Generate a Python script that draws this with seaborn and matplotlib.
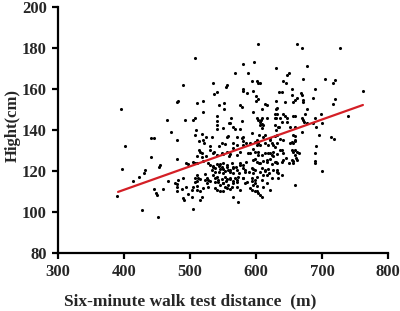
import matplotlib
matplotlib.use("Agg")
import matplotlib.pyplot as plt
import seaborn as sns
import pandas as pd

# Six-minute walk test distance (m) and height (cm)
walk_m = [
    395, 401, 397, 389,
    489, 482, 465, 492,
    603, 508, 580, 597, 568, 588, 630, 535, 556, 555, 594, 601, 603, 606, 580, 580,
    541, 536, 596, 586, 600, 603, 600, 635, 511, 520, 544, 551, 551, 576, 579, 614,
    617, 630, 596, 609, 520, 630, 632, 541, 562, 601, 617, 508, 505, 630,
    662, 670, 727, 677, 650, 647, 671, 705, 641, 645, 720, 717, 655, 689, 762, 639,
    655, 668, 670, 662, 659, 656, 671, 671, 644, 686, 720, 717, 677, 674, 641, 647,
    659, 689, 698, 739, 671,
    471, 441, 445, 480, 441, 480, 432, 430, 453, 455, 494, 497, 423, 414, 467, 477,
    482, 489, 480, 445, 448, 450, 459, 480, 480, 488, 494, 497, 489, 491, 427, 452,
    639, 647, 659, 677, 686, 700, 691, 656, 659, 670, 695, 714, 718, 641, 659, 656,
    652, 691, 639, 655, 659, 665, 659, 689, 645, 650, 656, 661, 662, 689, 689, 639,
    700, 639, 659,
    541, 541, 541, 550, 561, 565, 579, 606, 609, 635, 509, 558, 556, 571, 580, 594,
    605, 629, 518, 514, 521, 524, 530, 544, 553, 565, 571, 585, 591, 601, 603, 606,
    614, 621, 626, 632, 515, 518, 511, 535, 541, 548, 556, 561, 571, 576, 588, 595,
    603, 609, 614, 621, 626, 632, 505, 508, 520, 527, 535, 541, 544, 550, 556, 564,
    565, 576, 580, 585, 598, 605, 611, 617, 624, 630, 533, 538, 545, 550, 553, 561,
    565, 571, 574, 583, 589, 595, 606, 614, 620, 626, 632, 508, 511, 515, 523, 526,
    530, 538, 542, 548, 550, 555, 561, 565, 571, 580, 586, 594, 598, 609, 617, 624,
    505, 511, 520, 527, 538, 545, 553, 561, 571, 576, 591, 601, 611, 621, 503, 515,
    565, 573, 606, 609, 505,
    480, 559, 568, 576,
    632, 629, 629, 636, 603, 609, 608, 644, 656, 670, 673,
    508, 520, 533, 579, 580, 548, 514, 530, 536, 524, 550, 559, 565, 580, 511, 518,
    530, 535, 538, 545, 548, 550, 544, 556, 558, 561, 565, 570, 576, 580, 583, 511,
    512, 508, 511, 523, 526, 527, 535, 541, 542, 538, 545, 550, 553, 556, 561, 565,
    568, 571, 573, 558, 564, 580, 583, 503, 515, 518, 541, 550, 556,
    606, 611, 609, 629, 633, 630, 652, 611, 614, 621, 632, 636, 655, 659, 598, 601,
    618, 624, 629, 591, 598, 603, 618, 624, 626, 636, 641, 656, 662, 595, 601, 606,
    617, 621, 629, 632, 641, 655, 656, 594, 598, 595, 609, 614, 618, 632, 633, 594,
    598, 601, 611, 617, 633, 595, 601, 594, 598, 603,
]
height_cm = [
    150, 132, 121, 108,
    162, 154, 145, 145,
    182, 175, 172, 173, 168, 168, 170, 163, 162, 161, 164, 164, 163, 163, 160, 159,
    158.5, 157.5, 159, 158, 156.5, 155, 154, 158.5, 153, 154, 152, 153, 150, 152, 151, 152.5,
    152, 154, 149, 150, 149, 150, 148, 147, 146, 146, 146, 146, 145, 146,
    182, 180, 180, 171, 168, 167, 165, 165, 164, 163, 164.5, 163, 160, 160, 159, 158.5,
    157, 158, 157, 155.5, 154.5, 153.5, 154.5, 153.5, 153.5, 155.5, 155, 152.5, 150, 148, 148, 146,
    147, 146, 148, 147, 145,
    139, 136, 136, 135, 127, 126, 120.5, 119, 122, 123, 124, 123.5, 117, 115, 115, 114,
    115.5, 116.5, 113.5, 111, 109.5, 108.5, 111, 112, 110, 111, 112, 109, 107, 106, 101, 97.5,
    144, 144, 141.5, 143.5, 143.5, 143.5, 141.5, 137.5, 137, 139, 137.5, 136.5, 135.5, 135, 134.5, 133.5,
    133.5, 132, 130, 130, 130, 129, 128, 129, 126.5, 124, 125, 126.5, 125.5, 125, 124, 124.5,
    120, 118, 113,
    144.5, 142.5, 140.5, 141, 143.5, 141.5, 144.5, 142.5, 143, 141.5, 140, 137, 136.5, 136.5, 136.5, 138.5,
    137.5, 137, 138, 134.5, 133.5, 136.5, 132, 132, 133, 133.5, 132.5, 133.5, 133.5, 135, 133.5, 132.5,
    133.5, 135, 132.5, 133.5, 129.5, 129, 127.5, 129, 128, 129, 129.5, 128.5, 128, 129.5, 129, 130.5,
    129.5, 128, 129, 129, 127.5, 128.5, 124.5, 124, 125, 124, 122.5, 123.5, 122.5, 124, 123, 124,
    122, 124, 123, 124.5, 126, 124, 125, 124.5, 123.5, 124.5, 120.5, 119.5, 121, 119, 120, 120.5,
    119, 120.5, 119, 120.5, 119.5, 121, 119.5, 120.5, 119, 120.5, 119.5, 116.5, 115, 116, 115.5, 114,
    115, 116.5, 114.5, 116, 114, 115, 116, 114, 115.5, 116.5, 114.5, 115, 114, 115.5, 114, 116.5,
    112, 110.5, 111.5, 112, 111.5, 110, 112, 111, 112, 110.5, 111.5, 110, 112, 110.5, 107.5, 106,
    107.5, 105, 108.5, 107.5, 101.5,
    153.5, 143.5, 140.5, 140.5,
    150.5, 148, 146, 146, 145, 146, 145, 147, 147, 146, 144,
    137.5, 135, 136.5, 136, 134.5, 133.5, 130, 130, 129.5, 127.5, 128.5, 127.5, 131, 132.5, 124, 127,
    123, 122, 121.5, 123.5, 122, 121, 119.5, 122, 120.5, 119.5, 121.5, 122, 123, 121.5, 119.5, 118,
    116.5, 114.5, 112.5, 118.5, 116.5, 115.5, 118, 117, 115.5, 114.5, 113, 114, 117, 116, 116.5, 115,
    116.5, 114.5, 117, 113, 112, 116.5, 114, 110.5, 110, 107.5, 110.5, 110, 111.5,
    144, 142.5, 141, 142.5, 141.5, 140, 141.5, 136.5, 137.5, 136, 137.5, 135.5, 134, 135, 134, 132.5,
    132.5, 133.5, 131.5, 129, 129.5, 128, 129, 128, 129.5, 130, 129, 129.5, 129.5, 125.5, 124.5, 124,
    125.5, 126, 124.5, 124, 125.5, 125.5, 124, 121.5, 120.5, 119, 121.5, 120, 121, 120.5, 119, 116.5,
    115.5, 117, 118, 118, 116.5, 113, 112.5, 110.5, 110, 109.5,
]

# Fitted line as it appears in the reference
fit_x = [391, 762]
fit_y = [109.8, 152.2]

x_ticks = [300, 400, 500, 600, 700, 800]
y_ticks = [80, 100, 120, 140, 160, 180, 200]

df = pd.DataFrame({"walk": walk_m, "height": height_cm})

sns.set_style("ticks")
plt.rcParams["font.family"] = ["Liberation Serif", "DejaVu Serif"]
plt.rcParams["font.weight"] = "bold"

fig = plt.figure(figsize=(4, 3.11), dpi=100)
ax = fig.add_axes([0.145, 0.1865, 0.825, 0.791])

sns.scatterplot(data=df, x="walk", y="height", color="black", s=5,
                linewidth=0, ax=ax)
sns.lineplot(x=fit_x, y=fit_y, color="#d41f26", linewidth=1.6, ax=ax)

ax.set_xlim(300, 800)
ax.set_ylim(80, 200)
ax.set_xticks(x_ticks)
ax.set_yticks(y_ticks)
ax.tick_params(width=1.6, length=4, labelsize=12, color="black", pad=4)
for lab in ax.get_xticklabels() + ax.get_yticklabels():
    lab.set_fontweight("bold")

sns.despine(ax=ax)
for side in ["left", "bottom"]:
    ax.spines[side].set_linewidth(1.6)
    ax.spines[side].set_color("black")

ax.set_xlabel("Six-minute walk test distance  (m)", fontsize=12.5,
              fontweight="bold", labelpad=7)
ax.xaxis.set_label_coords(0.40, -0.165)
ax.set_ylabel("Hight(cm)", fontsize=12, fontweight="bold", labelpad=5)
ax.yaxis.set_label_coords(-0.112, 0.52)

fig.savefig("out.png", dpi=100)
